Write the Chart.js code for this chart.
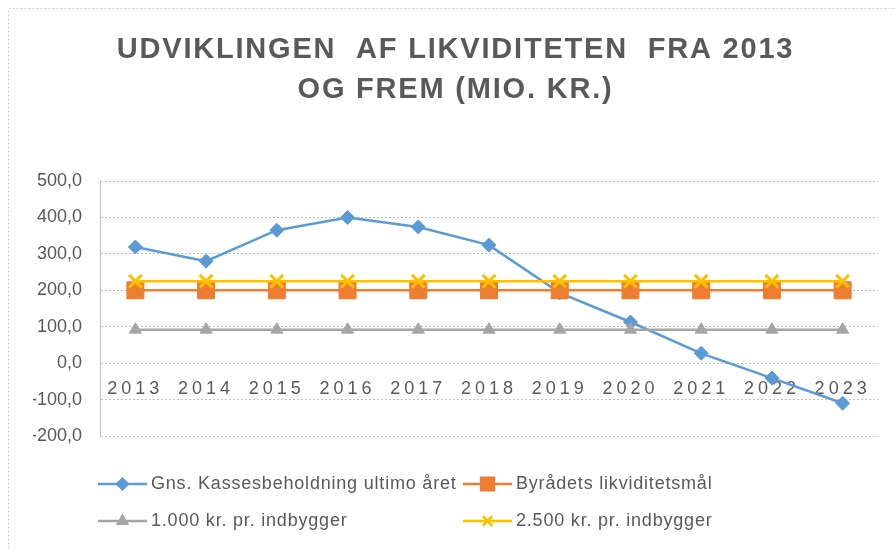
<!DOCTYPE html>
<html>
<head>
<meta charset="utf-8">
<script src="https://cdn.jsdelivr.net/npm/chart.js@4.4.1/dist/chart.umd.min.js"></script>
<style>
    html, body { margin: 0; padding: 0; background: #fff; }
    #wrap { position: relative; width: 895px; height: 549px; }
</style>
</head>
<body>
<div id="wrap"><canvas id="likviditetChart"></canvas></div>
<script>
// data (mio. kr.)
const years = ["2013", "2014", "2015", "2016", "2017", "2018", "2019", "2020", "2021", "2022", "2023"];
const kassebeholdning = [319, 280, 365, 400, 374, 324, 193, 113, 27, -41, -110];
const likviditetsmaal = [200, 200, 200, 200, 200, 200, 200, 200, 200, 200, 200];
const kr1000 = [92, 92, 92, 92, 92, 92, 92, 92, 92, 92, 92];
const kr2500 = [225, 225, 225, 225, 225, 225, 225, 225, 225, 225, 225];
const seriesNames = ["Gns. Kassesbeholdning ultimo året", "Byrådets likviditetsmål", "1.000 kr. pr. indbygger", "2.500 kr. pr. indbygger"];
const titleLines = ["UDVIKLINGEN  AF LIKVIDITETEN  FRA 2013", "OG FREM (MIO. KR.)"];

const textGray = "#595959";
Chart.defaults.font.family = "'Liberation Sans', Arial, sans-serif";
Chart.defaults.color = textGray;

// wrap a draw method so its text gets letter spacing (Excel-style spaced labels)
function spaceOut(obj, method, spacing) {
    if (!obj || obj["_spaced_" + method]) return;
    const orig = obj[method].bind(obj);
    obj[method] = function (area) {
        const ctx = obj.ctx;
        ctx.save();
        ctx.letterSpacing = spacing;
        orig(area);
        ctx.restore();
    };
    obj["_spaced_" + method] = true;
}

const spacingPlugin = {
    id: "spacing",
    beforeDraw(chart) {
        spaceOut(chart.titleBlock, "draw", "1.8px");
        spaceOut(chart.scales.x, "drawLabels", "4px");
        // light dotted frame
        const ctx = chart.ctx;
        ctx.save();
        ctx.strokeStyle = "#d0d0d0";
        ctx.lineWidth = 1;
        ctx.setLineDash([2, 2]);
        ctx.strokeRect(8.5, 8.5, 900, 560);
        ctx.restore();
    }
};

// two-column legend like the Excel original
const legendPlugin = {
    id: "gridLegend",
    afterDraw(chart) {
        const ctx = chart.ctx;
        const cols = [98, 463];
        const rows = [484, 521];
        chart.data.datasets.forEach((ds, i) => {
            const x = cols[i % 2];
            const y = rows[Math.floor(i / 2)];
            ctx.save();
            ctx.strokeStyle = ds.borderColor;
            ctx.lineWidth = 2.5;
            ctx.beginPath();
            ctx.moveTo(x, y);
            ctx.lineTo(x + 49, y);
            ctx.stroke();
            ctx.fillStyle = ds.pointBackgroundColor;
            ctx.strokeStyle = ds.pointBorderColor;
            Chart.helpers.drawPoint(ctx, {
                pointStyle: ds.pointStyle,
                radius: ds.pointRadius * 0.75,
                borderWidth: ds.pointBorderWidth,
                rotation: 0
            }, x + 24.5, y);
            ctx.fillStyle = textGray;
            ctx.font = "18px 'Liberation Sans', Arial, sans-serif";
            ctx.letterSpacing = "0.8px";
            ctx.textBaseline = "middle";
            ctx.fillText(ds.label, x + 53, y);
            ctx.restore();
        });
    }
};

function lineSet(label, data, color, style, radius, order) {
    return {
        label: label,
        data: data,
        order: order,
        borderColor: color,
        backgroundColor: color,
        borderWidth: 2.5,
        pointStyle: style,
        pointRadius: radius,
        pointHoverRadius: radius,
        pointBackgroundColor: color,
        pointBorderColor: color,
        pointBorderWidth: style === "crossRot" ? 3 : 1,
        tension: 0
    };
}

const dotted = [2, 2];

let ctx = document.getElementById("likviditetChart").getContext("2d");
let likviditetChart = new Chart(ctx, {
    type: "line",
    data: {
        labels: years,
        datasets: [
            lineSet(seriesNames[0], kassebeholdning, "#5B9BD5", "rectRot", 7, 4),
            lineSet(seriesNames[1], likviditetsmaal, "#ED7D31", "rect", 12, 3),
            lineSet(seriesNames[2], kr1000, "#A5A5A5", "triangle", 7, 2),
            lineSet(seriesNames[3], kr2500, "#FFC000", "crossRot", 9, 1)
        ]
    },
    options: {
        responsive: true,
        maintainAspectRatio: false,
        animation: false,
        layout: {
            padding: { left: 33, right: 17, top: 0, bottom: 113 }
        },
        plugins: {
            legend: { display: false },
            tooltip: { enabled: false },
            title: {
                display: true,
                text: titleLines,
                color: textGray,
                font: { size: 29, weight: "bold", lineHeight: 1.38 },
                padding: { top: 30, bottom: 71 }
            }
        },
        scales: {
            x: {
                position: { y: 0 },
                offset: true,
                grid: { display: false },
                border: { display: false },
                ticks: {
                    color: textGray,
                    font: { size: 18 },
                    padding: 7,
                    maxRotation: 0,
                    autoSkip: false
                }
            },
            y: {
                min: -200,
                max: 500,
                afterFit: (scale) => { scale.width = 67; },
                grid: {
                    color: "#bfbfbf",
                    drawTicks: false,
                    borderDash: dotted
                },
                border: { display: true, color: "#bfbfbf", dash: dotted },
                ticks: {
                    stepSize: 100,
                    padding: 18,
                    color: textGray,
                    font: { size: 18 },
                    callback: (v) => v.toFixed(1).replace(".", ",")
                }
            }
        }
    },
    plugins: [spacingPlugin, legendPlugin]
});
</script>
</body>
</html>
